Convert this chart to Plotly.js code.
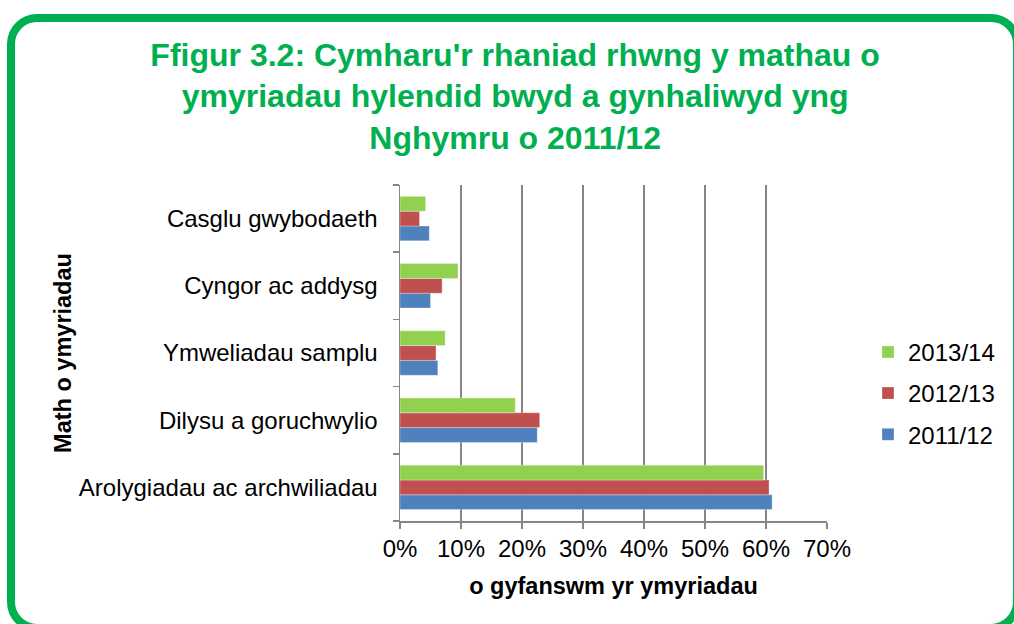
<!DOCTYPE html>
<html>
<head>
<meta charset="utf-8">
<script src="https://cdn.plot.ly/plotly-3.0.1.min.js"></script>
<style>
  html, body { margin: 0; padding: 0; width: 1014px; height: 624px; overflow: hidden; background: #ffffff; }
  #frame { position: absolute; left: 7px; top: 14px; width: 1014px; height: 618px; box-sizing: border-box;
           border: 8px solid #00B050; border-radius: 30px; }
  #chart { position: absolute; left: 0; top: 0; width: 1014px; height: 624px; }
</style>
</head>
<body>
<div id="frame"></div>
<div id="chart"></div>
<script>
// Categories (bottom to top as drawn)
const categories = [
  "Arolygiadau ac archwiliadau",
  "Dilysu a goruchwylio",
  "Ymweliadau samplu",
  "Cyngor ac addysg",
  "Casglu gwybodaeth"
];
// Series values (% of total interventions)
const values2011_12 = [61.0, 22.5, 6.2, 5.0, 4.8];
const values2012_13 = [60.5, 22.9, 5.9, 6.9, 3.2];
const values2013_14 = [59.6, 18.9, 7.4, 9.5, 4.2];
const seriesNames = ["2011/12", "2012/13", "2013/14"];
const xTickVals = [0, 10, 20, 30, 40, 50, 60, 70];
const xTickText = ["0%", "10%", "20%", "30%", "40%", "50%", "60%", "70%"];

const colors = ["#4F81BD", "#C0504D", "#92D050"];
const allValues = [values2011_12, values2012_13, values2013_14];

const font = "'Liberation Sans', Arial, sans-serif";

const traces = allValues.map((vals, i) => ({
  type: "bar",
  orientation: "h",
  name: seriesNames[i],
  legendgroup: seriesNames[i],
  legendrank: 10 - i,
  x: vals,
  y: categories,
  marker: { color: colors[i], line: { color: "rgba(255,255,255,0.6)", width: 0.5 } },
  hoverinfo: "x+y+name"
}));

const layout = {
  width: 1014,
  height: 624,
  paper_bgcolor: "rgba(0,0,0,0)",
  plot_bgcolor: "rgba(0,0,0,0)",
  margin: { l: 400, r: 187, t: 185, b: 103, pad: 0 },
  font: { family: font, size: 24, color: "#000000" },
  title: {
    text: "Ffigur 3.2: Cymharu'r rhaniad rhwng y mathau o<br>ymyriadau hylendid bwyd a gynhaliwyd yng<br>Nghymru o 2011/12",
    font: { family: font, size: 32, color: "#00B050", weight: "bold" },
    x: 0.508, xanchor: "center",
    y: 0.895, yanchor: "middle"
  },
  barmode: "group",
  bargap: 0.34,
  bargroupgap: 0,
  xaxis: {
    range: [0, 70],
    tickmode: "array",
    tickvals: xTickVals,
    ticktext: xTickText,
    showgrid: true,
    gridcolor: "#868686",
    gridwidth: 1.5,
    zeroline: false,
    showline: true,
    linecolor: "#868686",
    linewidth: 1.5,
    ticks: "outside",
    ticklen: 6,
    tickcolor: "#868686",
    tickwidth: 1.5,
    tickfont: { family: font, size: 24, color: "#000000" },
    title: { text: "<b>o gyfanswm yr ymyriadau</b>", font: { family: font, size: 23.5, color: "#000000" }, standoff: 16 }
  },
  yaxis: {
    type: "category",
    categoryorder: "array",
    categoryarray: categories,
    showgrid: false,
    zeroline: false,
    showline: true,
    linecolor: "#868686",
    linewidth: 1.5,
    ticks: "outside",
    tickson: "boundaries",
    ticklen: 6,
    tickcolor: "#868686",
    tickwidth: 1.5,
    tickfont: { family: font, size: 24, color: "#000000" },
    ticklabelstandoff: 16,
    title: { text: "<b>Math o ymyriadau</b>", font: { family: font, size: 23.5, color: "#000000" }, standoff: 0 }
  },
  legend: {
    x: 1.096, xanchor: "left",
    y: 0.38, yanchor: "middle",
    traceorder: "grouped",
    tracegroupgap: 7,
    font: { family: font, size: 24, color: "#000000" },
    itemwidth: 30,
    bgcolor: "rgba(0,0,0,0)"
  },
  showlegend: true
};

Plotly.newPlot("chart", traces, layout, { displayModeBar: false, staticPlot: true });
</script>
</body>
</html>
